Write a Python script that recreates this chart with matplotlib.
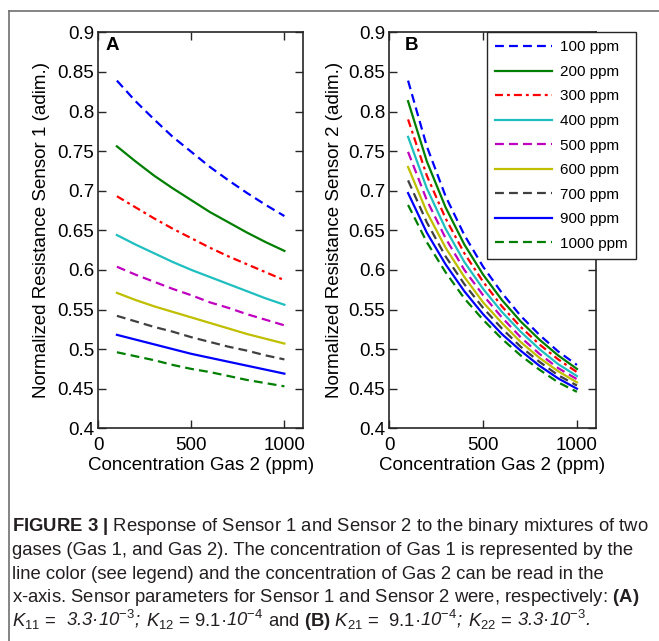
import matplotlib
matplotlib.use('Agg')
import matplotlib.pyplot as plt
from matplotlib import font_manager
from matplotlib.lines import Line2D
from matplotlib.ticker import FuncFormatter

# x-axis : concentration of gas 2 (ppm)
conc_gas2 = [100, 200, 300, 400, 500, 600, 700, 800, 900, 1000]
# legend : concentration of gas 1
gas1_labels = ['100 ppm', '200 ppm', '300 ppm', '400 ppm', '500 ppm',
               '600 ppm', '700 ppm', '900 ppm', '1000 ppm']

# (A) normalized resistance, sensor 1 (one row per gas 1 level)
sensor1 = [
    [0.839, 0.813, 0.790, 0.768, 0.749, 0.730, 0.713, 0.697, 0.682, 0.668],
    [0.756, 0.737, 0.719, 0.703, 0.688, 0.673, 0.660, 0.647, 0.635, 0.624],
    [0.693, 0.679, 0.665, 0.652, 0.640, 0.628, 0.617, 0.607, 0.597, 0.587],
    [0.644, 0.632, 0.621, 0.610, 0.600, 0.591, 0.582, 0.573, 0.564, 0.556],
    [0.604, 0.594, 0.585, 0.576, 0.568, 0.559, 0.552, 0.544, 0.537, 0.530],
    [0.571, 0.562, 0.554, 0.547, 0.540, 0.533, 0.526, 0.519, 0.513, 0.507],
    [0.542, 0.535, 0.528, 0.522, 0.515, 0.509, 0.503, 0.498, 0.492, 0.487],
    [0.518, 0.512, 0.506, 0.500, 0.494, 0.489, 0.484, 0.479, 0.474, 0.469],
    [0.496, 0.491, 0.486, 0.480, 0.475, 0.471, 0.466, 0.461, 0.457, 0.453],
]

# (B) normalized resistance, sensor 2
sensor2 = [
    [0.839, 0.756, 0.693, 0.644, 0.604, 0.571, 0.542, 0.518, 0.497, 0.480],
    [0.813, 0.737, 0.679, 0.632, 0.594, 0.562, 0.535, 0.512, 0.492, 0.475],
    [0.790, 0.719, 0.665, 0.621, 0.585, 0.554, 0.528, 0.506, 0.487, 0.471],
    [0.768, 0.703, 0.652, 0.610, 0.576, 0.547, 0.522, 0.500, 0.481, 0.466],
    [0.749, 0.688, 0.640, 0.600, 0.568, 0.540, 0.515, 0.494, 0.476, 0.462],
    [0.730, 0.673, 0.628, 0.591, 0.559, 0.533, 0.509, 0.489, 0.472, 0.458],
    [0.713, 0.660, 0.617, 0.582, 0.552, 0.526, 0.503, 0.484, 0.467, 0.454],
    [0.697, 0.647, 0.607, 0.573, 0.544, 0.519, 0.498, 0.479, 0.463, 0.450],
    [0.682, 0.635, 0.597, 0.564, 0.537, 0.513, 0.492, 0.474, 0.458, 0.446],
]

colors = ['#0000ff', '#007f00', '#ff0000', '#1fbfbf', '#bf00bf',
          '#bfbf00', '#404040', '#0000ff', '#007f00']
styles = ['--', '-', '-.', '-', '--', '-', '--', '-', '--']

names = {f.name for f in font_manager.fontManager.ttflist}
cap_font = 'Liberation Sans Narrow' if 'Liberation Sans Narrow' in names else 'Liberation Sans'

plt.rcParams['font.family'] = ['Liberation Sans', 'DejaVu Sans']
plt.rcParams['mathtext.fontset'] = 'custom'
plt.rcParams['mathtext.rm'] = cap_font
plt.rcParams['mathtext.it'] = cap_font + ':italic'
plt.rcParams['mathtext.bf'] = cap_font + ':bold'

W, H = 659, 641
fig = plt.figure(figsize=(W / 100, H / 100), dpi=100)
ax1 = fig.add_axes([98.3 / W, 1 - 428.3 / H, 204.7 / W, 396 / H])
ax2 = fig.add_axes([389.3 / W, 1 - 428.3 / H, 206.4 / W, 396 / H])

FS = 13.5
yfmt = FuncFormatter(lambda v, p: ('%.2f' % v).rstrip('0'))


def draw_panel(ax, data, ylab, letter, letter_x, ylab_x):
    handles = []
    for row, c, ls in zip(data, colors, styles):
        line, = ax.plot(conc_gas2, row, color=c, linestyle=ls, lw=1.6)
        if ls == '--':
            line.set_dashes((4, 2.3))
        elif ls == '-.':
            line.set_dashes((3.6, 1.8, 1.3, 1.8))
        handles.append(line)
    ax.set_xlim(0, 1100)
    ax.set_ylim(0.4, 0.9)
    ax.set_xticks([0, 500, 1000])
    ax.set_yticks([0.4 + 0.05 * i for i in range(11)])
    ax.yaxis.set_major_formatter(yfmt)
    ax.tick_params(direction='in', top=True, right=True, length=6, width=1,
                   labelsize=FS, color='#262626')
    ax.tick_params(axis='x', pad=6)
    ax.tick_params(axis='y', pad=3)
    for s in ax.spines.values():
        s.set_linewidth(1.2)
        s.set_color('#262626')
    ax.set_xlabel('Concentration Gas 2 (ppm)', fontsize=FS)
    ax.xaxis.set_label_coords(0.5, -0.072)
    ax.set_ylabel(ylab, fontsize=FS)
    ax.yaxis.set_label_coords(ylab_x, 0.5)
    ax.text(letter_x, 0.989, letter, transform=ax.transAxes, fontsize=13.5,
            fontweight='bold', va='top', ha='left')
    return handles


draw_panel(ax1, sensor1, 'Normalized Resistance Sensor 1 (adim.)', 'A', 0.037, -0.235)
handles = draw_panel(ax2, sensor2, 'Normalized Resistance Sensor 2 (adim.)', 'B', 0.076, -0.225)

leg = fig.legend(handles, gas1_labels, loc='upper left',
                 bbox_to_anchor=(487 / W, 1 - 32 / H), bbox_transform=fig.transFigure,
                 fontsize=11, fancybox=False, framealpha=1, edgecolor='#262626',
                 handlelength=3.7, handletextpad=0.55, labelspacing=0.69,
                 borderpad=0.55, borderaxespad=0)
leg.get_frame().set_linewidth(1.0)

# outer frame of the figure panel
fig.add_artist(Line2D([8.5 / W, 1], [1 - 10.5 / H] * 2, transform=fig.transFigure,
                      color='#707070', lw=1.2))
fig.add_artist(Line2D([8.5 / W] * 2, [0, 1 - 10.5 / H], transform=fig.transFigure,
                      color='#707070', lw=1.2))

# caption
caption = [
    r'$\mathbf{FIGURE\ 3\ |}$ Response of Sensor 1 and Sensor 2 to the binary mixtures of two',
    'gases (Gas 1, and Gas 2). The concentration of Gas 1 is represented by the',
    'line color (see legend) and the concentration of Gas 2 can be read in the',
    r'x-axis. Sensor parameters for Sensor 1 and Sensor 2 were, respectively: $\mathbf{(A)}$',
]
# last line: (text, style) runs, placed one after the other
# (spaces kept at the start of a run so they are measured)
last_runs = [
    (r'$K_{11}$ =', 'normal'),
    (r'  3.3·10$^{-3}$;', 'italic'),
    (r' $K_{12}$ = 9.1·', 'normal'),
    (r'10$^{-4}$', 'italic'),
    (r' and $\mathbf{(B)}$ $K_{21}$ =  9.1·', 'normal'),
    (r'10$^{-4}$;', 'italic'),
    (r' $K_{22}$ =', 'normal'),
    (r' 3.3·10$^{-3}$.', 'italic'),
]
baselines = [531, 555, 579, 602, 626]
cap_color = '#231f20'
cap_size = 14.5 if cap_font == 'Liberation Sans Narrow' else 12.3
x0 = 12 / W
texts = []
for txt, b in zip(caption, baselines):
    t = fig.text(x0, 1 - b / H, txt, fontsize=cap_size, family=cap_font,
                 color=cap_color, va='baseline', ha='left')
    texts.append(t)

# fit first caption line to its width in the reference (about 641 px)
renderer = fig.canvas.get_renderer()
w = texts[0].get_window_extent(renderer).width
cap_size = cap_size * 641 / w
for t in texts:
    t.set_fontsize(cap_size)

x = x0
for txt, st in last_runs:
    t = fig.text(x, 1 - baselines[4] / H, txt, fontsize=cap_size, family=cap_font,
                 fontstyle=st, color=cap_color, va='baseline', ha='left')
    x += t.get_window_extent(renderer).width / W

fig.savefig('out.png', dpi=100)
